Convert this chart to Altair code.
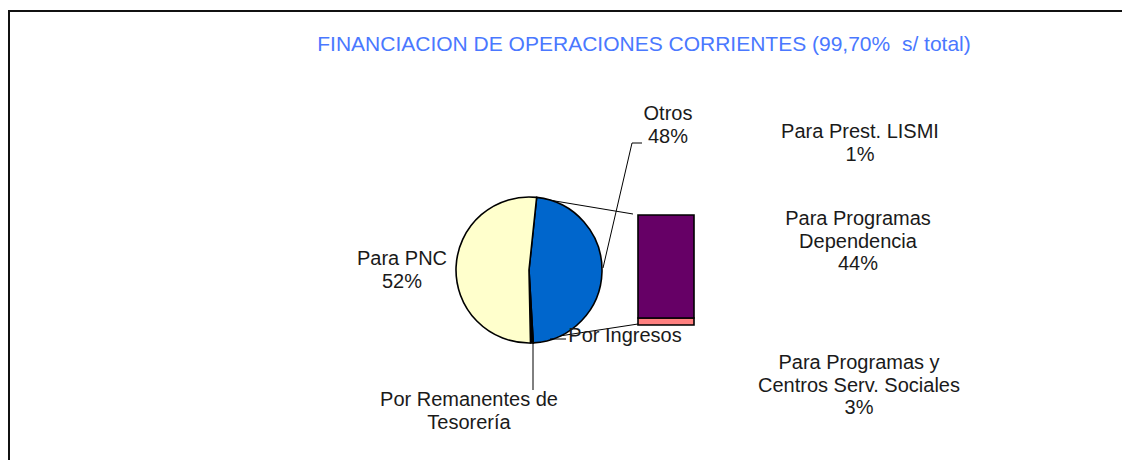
import math
import altair as alt
import pandas as pd

# ---- data ----
title_text = "FINANCIACION DE OPERACIONES CORRIENTES (99,70%\u00a0 s/ total)"

pie_categories = ["Otros", "Por Remanentes de Tesorería", "Para PNC"]
pie_values = [47.4, 0.6, 52.0]
pie_colors = ["#0066CC", "#000000", "#FFFFCC"]

bar_categories = ["Para Programas y Centros Serv. Sociales", "Para Programas Dependencia"]
bar_values = [3, 44]
bar_colors = ["#FF8080", "#660066"]

label_otros = ["Otros", "48%"]
label_pnc = ["Para PNC", "52%"]
label_rem = ["Por Remanentes de", "Tesorería"]
label_ing = ["Por Ingresos"]
label_lismi = ["Para Prest. LISMI", "1%"]
label_dep = ["Para Programas", "Dependencia", "44%"]
label_cen = ["Para Programas y", "Centros Serv. Sociales", "3%"]

# ---- layout (plot coordinates; page = plot + 8) ----
W, H = 1114, 452
CX, CY, R = 521, 262, 73
START = 0.105
FONT = "Liberation Sans"

pie_df = pd.DataFrame({
    "cat": pie_categories,
    "value": pie_values,
    "ord": list(range(len(pie_categories))),
})
bar_df = pd.DataFrame({
    "cat": bar_categories,
    "value": bar_values,
    "ord": list(range(len(bar_categories))),
})
one = pd.DataFrame({"a": [0]})

pie = alt.Chart(pie_df).mark_arc(radius=R, stroke="#000000", strokeWidth=1.6).encode(
    theta=alt.Theta("value:Q", stack=True,
                    scale=alt.Scale(range=[START, START + 2 * math.pi])),
    order=alt.Order("ord:Q"),
    color=alt.Color("cat:N", scale=alt.Scale(domain=pie_categories, range=pie_colors), legend=None),
    x=alt.value(CX),
    y=alt.value(CY),
)

bar = alt.Chart(bar_df).transform_stack(
    stack="value", as_=["v0", "v1"], groupby=[], sort=[alt.SortField("ord", order="ascending")]
).mark_rect(stroke="#000000", strokeWidth=1.6).encode(
    x=alt.value(630),
    x2=alt.value(686),
    y=alt.Y("v0:Q", axis=None, scale=alt.Scale(range=[317, 207], nice=False, zero=True)),
    y2="v1:Q",
    color=alt.Color("cat:N", scale=alt.Scale(domain=bar_categories, range=bar_colors), legend=None),
)


def rule(x1, y1, x2, y2, w=1.0, c="#000000"):
    return alt.Chart(one).mark_rule(color=c, strokeWidth=w).encode(
        x=alt.value(x1), y=alt.value(y1), x2=alt.value(x2), y2=alt.value(y2))


def text(lines, x, y, size=20, color="#1a1a1a", lh=22.5):
    return alt.Chart(one).mark_text(
        text=lines if len(lines) > 1 else lines[0], font=FONT, fontSize=size, color=color,
        align="center", baseline="middle", lineHeight=lh,
    ).encode(x=alt.value(x), y=alt.value(y))


layers = [
    rule(0, 3, W, 3, 2, "#111111"),
    rule(1, 2, 1, H, 2, "#111111"),
    rule(529, 190, 625, 206),
    rule(545, 329, 630, 316),
    pie,
    bar,
    rule(595, 260, 624, 135),
    rule(624, 135, 634, 135),
    rule(525, 333, 525, 382),
    rule(542, 331, 558, 331),
    text([title_text], 636, 37, size=21, color="#4A78FF"),
    text(label_otros, 660, 106),
    text(label_pnc, 394, 251),
    text(label_rem, 461, 392),
    text(label_ing, 617, 328),
    text(label_lismi, 852, 124),
    text(label_dep, 850, 211),
    text(label_cen, 851, 355),
]

chart = alt.layer(*layers).resolve_scale(color="independent").properties(
    width=W, height=H, padding=0, autosize="none", background="white"
).configure_view(stroke=None)

chart.save("out.html", embed_options={"renderer": "svg", "actions": False})
